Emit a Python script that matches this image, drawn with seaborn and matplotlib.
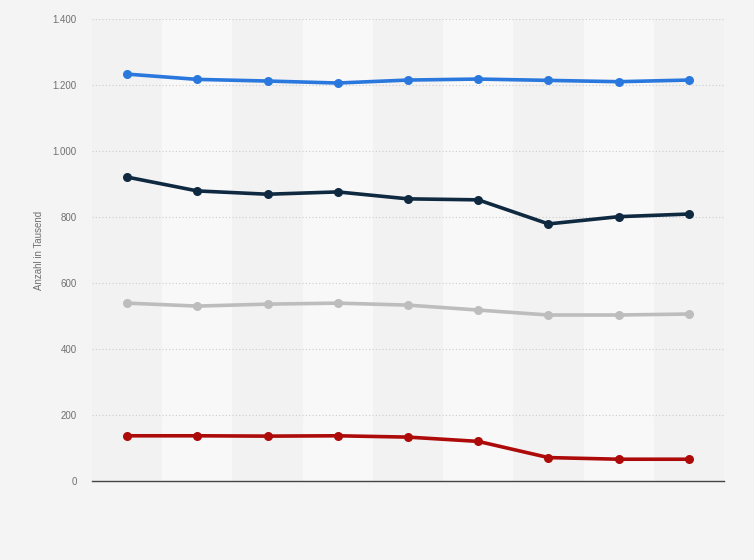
import matplotlib
matplotlib.use("Agg")
import matplotlib.pyplot as plt
import matplotlib.ticker as mticker
import pandas as pd
import seaborn as sns

# Nine unlabeled periods
periods = list(range(9))

series_a = [1233, 1217, 1212, 1206, 1215, 1218, 1214, 1210, 1215]
series_b = [921, 879, 869, 876, 855, 852, 779, 801, 809]
series_c = [539, 530, 536, 539, 533, 518, 503, 503, 506]
series_d = [137, 137, 136, 137, 133, 120, 71, 66, 66]

series_names = ["A", "B", "C", "D"]
series_colors = ["#2a78de", "#0f2941", "#bdbdbd", "#ad0a0a"]

y_ticks = [0, 200, 400, 600, 800, 1000, 1200, 1400]
y_label = "Anzahl in Tausend"


def build_frame() -> pd.DataFrame:
    rows = []
    for name, values in zip(series_names, [series_a, series_b, series_c, series_d]):
        for p, v in zip(periods, values):
            rows.append({"period": p, "value": v, "series": name})
    return pd.DataFrame(rows)


def main() -> None:
    sns.set_style("white")
    plt.rcParams["font.family"] = ["Liberation Sans", "DejaVu Sans"]

    df = build_frame()

    fig = plt.figure(figsize=(7.54, 5.6), dpi=100)
    fig.patch.set_facecolor("#f4f4f4")
    ax = fig.add_axes([92 / 754, 1 - 481 / 560, (724 - 92) / 754, (481 - 19) / 560])
    ax.set_facecolor("#f2f2f2")

    # alternating column bands
    for i in periods:
        if i % 2 == 1:
            ax.axvspan(i - 0.5, i + 0.5, color="#f8f8f8", zorder=0, lw=0)

    sns.lineplot(
        data=df, x="period", y="value", hue="series",
        palette=series_colors, marker="o", markersize=6.5,
        markeredgewidth=0, linewidth=2.6, legend=False, ax=ax, zorder=3,
    )

    ax.set_xlim(-0.5, 8.5)
    ax.set_ylim(0, 1400)
    ax.set_yticks(y_ticks)
    ax.yaxis.set_major_formatter(
        mticker.FuncFormatter(lambda v, _: f"{int(v):,}".replace(",", "."))
    )
    ax.set_xticks([])
    ax.tick_params(axis="y", length=0, labelsize=7, labelcolor="#707070", pad=11)
    ax.grid(axis="y", color="#cccccc", linestyle=(0, (1, 2)), linewidth=0.8, zorder=1)
    ax.set_axisbelow(True)

    for side in ["top", "right", "left"]:
        ax.spines[side].set_visible(False)
    ax.spines["bottom"].set_color("#444444")
    ax.spines["bottom"].set_linewidth(1.0)
    ax.spines["bottom"].set_zorder(4)

    ax.set_xlabel("")
    ax.set_ylabel(y_label, fontsize=7, color="#707070", labelpad=6)

    fig.savefig("out.png", dpi=100, facecolor=fig.get_facecolor())
    plt.close(fig)


if __name__ == "__main__":
    main()
